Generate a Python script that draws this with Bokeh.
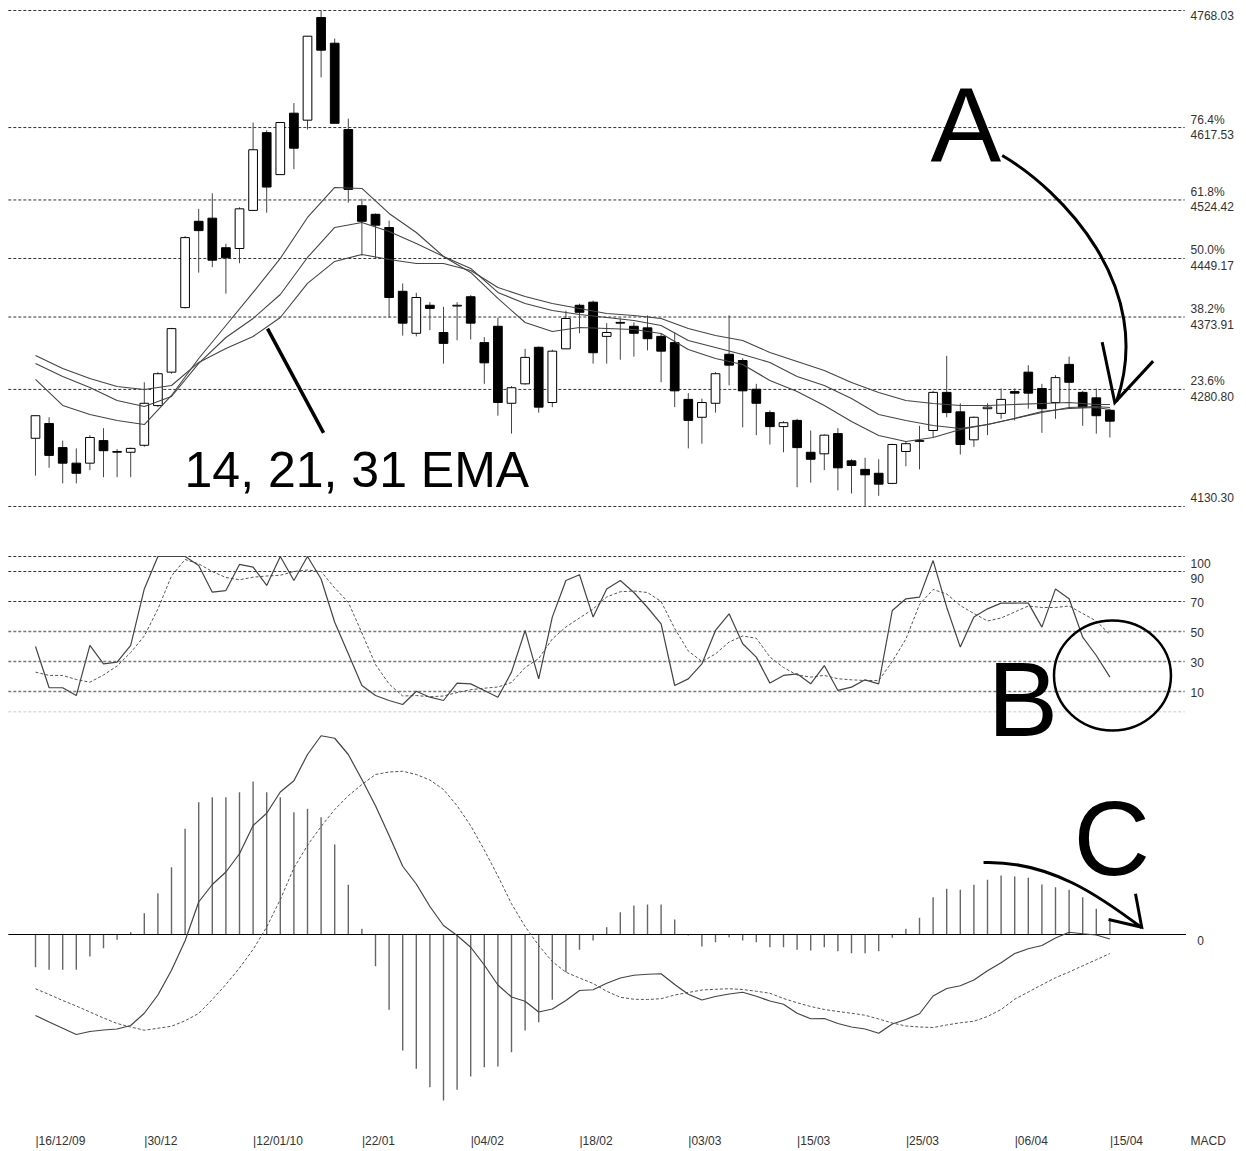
from bokeh.plotting import figure
from bokeh.models import Range1d, ColumnDataSource
from bokeh.core.properties import value
from bokeh.embed import file_html
from bokeh.resources import INLINE

# ---------------- data ----------------
opens = [4218, 4237, 4206, 4186, 4186, 4215, 4200, 4200, 4209, 4260,
         4303, 4386, 4497, 4501, 4463, 4462, 4511, 4611, 4557, 4636,
         4627, 4759, 4726, 4615, 4517, 4506, 4489, 4407, 4353, 4389,
         4354, 4388, 4400, 4341, 4362, 4263, 4288, 4335, 4264, 4333,
         4389, 4393, 4349, 4367, 4362, 4360, 4349, 4341, 4268, 4245,
         4263, 4326, 4318, 4281, 4251, 4233, 4241, 4200, 4198, 4224,
         4189, 4178, 4173, 4160, 4201, 4214, 4228, 4277, 4252, 4216,
         4256, 4250, 4278, 4303, 4282, 4264, 4313, 4277, 4270, 4254]
highs = [4247, 4245, 4215, 4205, 4222, 4231, 4204, 4206, 4290, 4303,
         4360, 4478, 4513, 4533, 4468, 4515, 4624, 4614, 4624, 4649,
         4735, 4768, 4732, 4629, 4526, 4507, 4498, 4417, 4405, 4393,
         4387, 4393, 4402, 4348, 4373, 4285, 4333, 4336, 4332, 4382,
         4391, 4395, 4366, 4372, 4367, 4376, 4353, 4354, 4276, 4269,
         4303, 4376, 4321, 4288, 4254, 4240, 4243, 4228, 4223, 4231,
         4191, 4193, 4191, 4211, 4214, 4234, 4279, 4324, 4263, 4246,
         4263, 4282, 4282, 4312, 4288, 4299, 4323, 4279, 4282, 4256]
lows = [4170, 4180, 4160, 4160, 4177, 4168, 4168, 4168, 4207, 4258,
        4301, 4385, 4431, 4438, 4404, 4443, 4511, 4508, 4557, 4564,
        4615, 4682, 4623, 4521, 4453, 4450, 4373, 4350, 4349, 4357,
        4314, 4344, 4345, 4288, 4247, 4224, 4287, 4251, 4258, 4333,
        4353, 4314, 4314, 4319, 4323, 4331, 4290, 4258, 4205, 4211,
        4251, 4286, 4232, 4222, 4210, 4200, 4155, 4161, 4177, 4151,
        4147, 4131, 4144, 4159, 4182, 4178, 4219, 4245, 4197, 4207,
        4222, 4243, 4241, 4256, 4225, 4243, 4256, 4234, 4224, 4219]
closes = [4247, 4196, 4186, 4173, 4219, 4202, 4201, 4205, 4263, 4301,
          4359, 4476, 4485, 4447, 4450, 4513, 4589, 4541, 4624, 4591,
          4735, 4717, 4623, 4538, 4497, 4492, 4399, 4366, 4399, 4385,
          4340, 4389, 4366, 4315, 4264, 4283, 4322, 4258, 4330, 4372,
          4380, 4328, 4354, 4366, 4353, 4346, 4330, 4279, 4241, 4264,
          4301, 4312, 4279, 4263, 4233, 4238, 4206, 4191, 4222, 4180,
          4183, 4171, 4159, 4210, 4211, 4215, 4277, 4251, 4210, 4245,
          4258, 4268, 4276, 4276, 4256, 4296, 4290, 4258, 4247, 4240]

ema_idx = list(range(0, 80, 2)) + [79]
ema14 = [4293.6, 4260.2, 4248.6, 4240.9, 4235.7, 4273.0, 4320.6, 4363.0, 4405.5, 4449.2,
         4501.9, 4540.5, 4539.2, 4507.1, 4482.6, 4451.8, 4431.2, 4397.8, 4366.9, 4355.3,
         4360.5, 4359.2, 4357.9, 4352.8, 4332.2, 4320.6, 4312.9, 4292.3, 4278.2, 4260.2,
         4239.6, 4221.6, 4213.9, 4219.0, 4229.3, 4235.7, 4243.5, 4252.5, 4256.3, 4257.6, 4255.0]
ema21 = [4314.2, 4297.5, 4283.3, 4266.6, 4258.9, 4271.7, 4314.2, 4347.6, 4372.1, 4402.9,
         4450.5, 4489.1, 4495.5, 4483.9, 4468.5, 4451.8, 4436.4, 4405.5, 4391.3, 4382.3,
         4377.2, 4373.3, 4369.5, 4363.0, 4343.8, 4334.8, 4325.8, 4315.5, 4297.5, 4285.9,
         4269.2, 4248.6, 4240.9, 4234.4, 4230.6, 4235.7, 4243.5, 4251.2, 4257.6, 4258.9, 4257.6]
ema31 = [4324.5, 4307.8, 4294.9, 4284.6, 4280.7, 4285.9, 4315.5, 4333.5, 4348.9, 4373.3,
         4417.1, 4445.4, 4454.4, 4447.9, 4442.8, 4442.8, 4433.8, 4411.9, 4400.3, 4391.3,
         4384.9, 4378.5, 4375.9, 4372.1, 4359.2, 4350.2, 4343.8, 4328.3, 4316.8, 4305.2,
         4289.7, 4276.9, 4266.6, 4262.7, 4260.2, 4260.2, 4261.5, 4262.7, 4264.0, 4261.5, 4261.5]

stoch_k = [40, 12.5, 12.5, 7.3, 40.7, 28.4, 29.6, 40.7, 78.4, 100,
           100, 100, 94, 76.2, 77.3, 94.7, 92.9, 80.7, 100, 84,
           100, 85, 56.2, 35.1, 14, 7.3, 4, 1.3, 10.2, 6.2,
           4, 15.6, 15.1, 10.7, 6.2, 22.9, 50.7, 18.4, 59.6, 84,
           87.8, 59.6, 78.4, 84, 76, 66, 55.1, 14, 18.4, 28.4,
           50.7, 61.8, 41.8, 32.9, 15.6, 20.7, 21.8, 15.1, 27.3, 10.7,
           12.9, 17.8, 15.1, 64, 71.8, 72.9, 97.3, 66.2, 39.6, 59.6,
           65.1, 68.9, 69, 68.9, 52.9, 78.4, 71.8, 46.2, 34, 19.6]
stoch_d = [22.9, 20.7, 20.7, 18, 16.2, 21, 27, 36, 47, 65,
           87, 98, 95.1, 90, 86, 84.5, 86.2, 87, 87.5, 90,
           91, 90, 79, 69.5, 49, 28, 15, 7, 7.3, 6.5,
           7, 9.3, 11.2, 12.2, 13, 16, 26, 32, 45, 53,
           59, 65, 73, 76.5, 77, 76, 70, 52, 37, 30,
           35, 43, 47, 45.5, 33, 26, 21, 19.6, 20.7, 18.5,
           17.8, 17.3, 17.3, 30, 45, 68, 78, 75, 67.3, 62,
           57, 59, 63, 67, 66, 66, 67, 62, 57, 48]

macd_line = [-32.4, -35, -37.5, -40, -38.8, -38.2, -37.8, -36.4, -31.5, -24.2,
             -14.3, -2.5, 13, 20, 25, 32.3, 43.6, 48.5, 57, 61.5,
             72, 79.5, 78.5, 72, 62, 51.5, 39.6, 27.3, 20.2, 11.2,
             3.6, -0.4, -5.1, -12.2, -20.2, -25, -26.7, -31, -29.8, -26.4,
             -22.4, -22.1, -19.5, -17.4, -16.3, -15.9, -15.7, -20, -23.9, -26.2,
             -24.8, -23.8, -23.1, -24.7, -26.6, -27.9, -31.5, -33.7, -33.6, -35.6,
             -37, -37.8, -39.5, -35.8, -34, -31.7, -24.6, -21.6, -20.5, -18.2,
             -14.5, -11.3, -7.6, -5.7, -4.4, -1.4, 0.9, 0.3, -0.2, -1.8]
macd_signal = [-21.7, -24, -26.4, -28.6, -31, -33.4, -35.6, -37, -38.3, -37.5,
               -36.7, -34.5, -31.6, -26, -20, -13.4, -6, 3, 14, 26.6,
               35.7, 43.2, 50, 55.5, 60, 64, 65, 65.3, 64, 61.8,
               58, 51.5, 43.5, 33.8, 23.4, 12.3, 3.2, -4.4, -10.8, -15.1,
               -17.4, -19.6, -22.7, -25.1, -25.9, -26, -25.7, -24.2, -23.2, -22.2,
               -21.9, -21.7, -22, -22.7, -23.5, -25.6, -27.3, -28.8, -30, -30.8,
               -31.5, -32.3, -33.8, -35.4, -36.6, -37, -37.2, -36.2, -35.3, -34.7,
               -32.8, -30, -25.9, -23, -20.1, -17.3, -15, -12.5, -10.1, -7.6]
macd_hist = [-13.1, -14.1, -14.1, -14.1, -8.8, -5.5, -2.1, 0.9, 8.5, 16.5,
             26.9, 42.3, 52.9, 54.9, 54.9, 56.9, 61.2, 56.9, 54.9, 48.9,
             50.3, 46.9, 36, 19.9, 2.3, -12.7, -30.1, -46.4, -53.7, -61.1,
             -66.4, -62.1, -56.8, -53.1, -52.8, -47.1, -38.4, -35.1, -26.1, -15.1,
             -6.1, -2.4, 2.9, 8.9, 11.6, 12, 12, 6, -0.4, -4.8,
             -3.1, -1.1, -2.4, -3.1, -5.1, -5.1, -6.1, -6.4, -5.1, -6.7,
             -7.5, -7.5, -6.7, -1.3, 2.3, 6.7, 14.9, 18.3, 17.9, 19.9,
             21.9, 23.6, 23.2, 22.7, 20, 18.9, 17.9, 14.9, 10.3, 5.9]

fib_levels = [4768.03, 4617.53, 4524.42, 4449.17, 4373.91, 4280.80, 4130.30]
fib_pcts = ["", "76.4%", "61.8%", "50.0%", "38.2%", "23.6%", ""]
stoch_levels = [100, 90, 70, 50, 30, 10]
date_pos = [0, 8, 16, 24, 32, 40, 48, 56, 64, 72, 79]
date_labels = ["|16/12/09", "|30/12", "|12/01/10", "|22/01", "|04/02", "|18/02",
               "|03/03", "|15/03", "|25/03", "|06/04", "|15/04"]

# ---------------- figure ----------------
W, H = 1246, 1151
X0, X1 = -2.5735, 89.044
P0, P1 = 3300.93, 4780.888
S0, S1 = -296.667, 470.667
M0, M1 = -86.8, 373.6
ppx = (P1 - P0) / H      # price units per pixel
spx = (S1 - S0) / H
mpx = (M1 - M0) / H

p = figure(width=W, height=H, x_range=Range1d(X0, X1), y_range=Range1d(P0, P1),
           output_backend="svg", toolbar_location=None,
           x_axis_location=None, y_axis_location=None, min_border=0)
p.extra_y_ranges = {"stoch": Range1d(S0, S1), "macd": Range1d(M0, M1)}
p.xgrid.grid_line_color = None
p.ygrid.grid_line_color = None
p.outline_line_color = None
p.background_fill_color = "white"
p.border_fill_color = "white"

LBL_FONT = value("Liberation Sans")
BIG_FONT = value("Liberation Sans")
XL, XR = -2.0, 84.5
LX = 84.93

# fibonacci levels
p.segment(x0=[XL] * len(fib_levels), y0=fib_levels, x1=[XR] * len(fib_levels), y1=fib_levels,
          line_color="#333333", line_dash="3 2", line_width=1)
val_off = [5, 7, 7, 7, 7, 7, -9]
p.text(x=[LX] * len(fib_levels), y=[lv - o * ppx for lv, o in zip(fib_levels, val_off)],
       text=["%.2f" % lv for lv in fib_levels], text_font=LBL_FONT, text_font_size="12px",
       text_color="#333333", text_baseline="middle", text_align="left")
pct_lv = [lv for lv, t in zip(fib_levels, fib_pcts) if t]
p.text(x=[LX] * len(pct_lv), y=[lv + 8 * ppx for lv in pct_lv],
       text=[t for t in fib_pcts if t], text_font=LBL_FONT, text_font_size="12px",
       text_color="#333333", text_baseline="middle", text_align="left")

# candles
n = len(opens)
idx = list(range(n))
src = ColumnDataSource(dict(
    x=idx, o=opens, h=highs, l=lows, c=closes,
    top=[max(a, b) for a, b in zip(opens, closes)],
    bottom=[min(a, b) for a, b in zip(opens, closes)],
    fill=["white" if c >= o else "black" for o, c in zip(opens, closes)]))
p.segment(x0="x", y0="l", x1="x", y1="h", source=src, line_color="#444444", line_width=1)
p.vbar(x="x", width=0.64, top="top", bottom="bottom", fill_color="fill",
       line_color="black", line_width=1, source=src)

# EMAs
for ema in (ema14, ema21, ema31):
    p.line(ema_idx, ema, line_color="#444444", line_width=1.1)

# stochastic panel
st_styles = [("#333333", "3 2", 1), ("#333333", "3 2", 1), ("#333333", "3 2", 1),
             ("#777777", "3 2", 1.6), ("#777777", "3 2", 1.6), ("#777777", "3 2", 1.6)]
for lv, (col, dash, lw) in zip(stoch_levels, st_styles):
    p.segment(x0=[XL], y0=[lv], x1=[XR], y1=[lv], y_range_name="stoch",
              line_color=col, line_dash=dash, line_width=lw)
p.segment(x0=[XL], y0=[-3.5], x1=[XR], y1=[-3.5], y_range_name="stoch",
          line_color="#dddddd", line_dash="3 2", line_width=1.6)
st_off = [7, 7, 1, 1, 1, 1]
p.text(x=[LX] * len(stoch_levels), y=[lv - o * spx for lv, o in zip(stoch_levels, st_off)],
       text=[str(v) for v in stoch_levels], y_range_name="stoch", text_font=LBL_FONT,
       text_font_size="12px", text_color="#333333", text_baseline="middle", text_align="left")
p.line(idx, stoch_d, y_range_name="stoch", line_color="#555555", line_dash="3 2", line_width=1)
p.line(idx, stoch_k, y_range_name="stoch", line_color="#444444", line_width=1.2)

# MACD panel
p.segment(x0=idx, y0=[0] * n, x1=idx, y1=macd_hist, y_range_name="macd",
          line_color="#666666", line_width=1.4)
p.segment(x0=[-2.0], y0=[0], x1=[84.6], y1=[0], y_range_name="macd",
          line_color="black", line_width=1.2)
p.line(idx, macd_signal, y_range_name="macd", line_color="#555555", line_dash="3 2", line_width=1)
p.line(idx, macd_line, y_range_name="macd", line_color="#444444", line_width=1.2)
p.text(x=[LX + 0.5], y=[-6 * mpx], text=["0"], y_range_name="macd", text_font=LBL_FONT,
       text_font_size="12px", text_color="#333333", text_baseline="middle", text_align="left")

# date labels
date_y = M0 + 11 * mpx
p.text(x=date_pos, y=[date_y] * len(date_pos), text=date_labels, y_range_name="macd",
       text_font=LBL_FONT, text_font_size="12px", text_color="#333333",
       text_baseline="middle", text_align="left")
p.text(x=[LX], y=[date_y], text=["MACD"], y_range_name="macd", text_font=LBL_FONT,
       text_font_size="12px", text_color="#333333", text_baseline="middle", text_align="left")

# ---------------- annotations ----------------
p.text(x=[10.96], y=[4177.8], text=["14, 21, 31 EMA"], text_font=BIG_FONT,
       text_font_size="50px", text_color="black", text_baseline="middle", text_align="left")
p.line([17.06, 21.18], [4359, 4225], line_color="black", line_width=3.5)

p.text(x=[65.81], y=[4622.1], text=["A"], text_font=BIG_FONT, text_font_size="106px",
       text_color="black", text_baseline="middle", text_align="left")
p.bezier(x0=[71.08], y0=[4581.6], x1=[79.49], y1=[4265.3],
         cx0=[75.37], cy0=[4537.9], cx1=[82.43], cy1=[4413.2],
         line_color="black", line_width=3)
p.line([78.43, 79.36, 82.18], [4341.6, 4264.0, 4317.2], line_color="black", line_width=3,
       line_join="miter")

p.text(x=[70.0], y=[5.0], text=["B"], y_range_name="stoch", text_font=BIG_FONT,
       text_font_size="106px", text_color="black", text_baseline="middle", text_align="left")
p.ellipse(x=[79.19], y=[20.7], width=[8.6], height=[73.3], y_range_name="stoch",
          fill_color=None, line_color="black", line_width=2.5)

p.text(x=[76.32], y=[38.6], text=["C"], y_range_name="macd", text_font=BIG_FONT,
       text_font_size="106px", text_color="black", text_baseline="middle", text_align="left")
p.bezier(x0=[69.71], y0=[28.8], x1=[81.32], y1=[2.8],
         cx0=[74.63], cy0=[29.6], cx1=[78.38], cy1=[14.8],
         y_range_name="macd", line_color="black", line_width=3)
p.line([80.88, 81.34, 78.9], [16.3, 2.9, 6.0], y_range_name="macd", line_color="black",
       line_width=3, line_join="miter")

open("out.html", "w").write(file_html(p, INLINE))
